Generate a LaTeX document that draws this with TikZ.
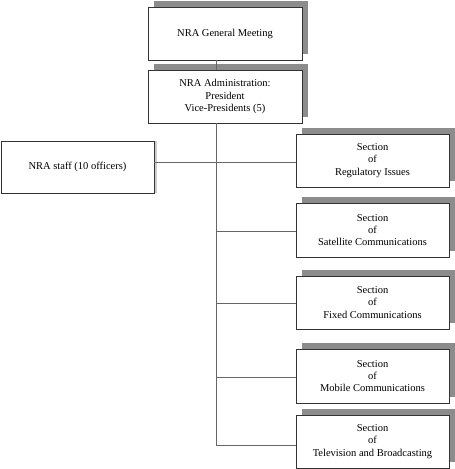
\documentclass[tikz,border=0pt]{standalone}
\usepackage{fontspec}
\setmainfont{Liberation Serif}
\usetikzlibrary{shadows}
\begin{document}
\begin{tikzpicture}[x=1pt,y=-1pt,
    orgbox/.style={draw=black!80,line width=0.8pt,fill=white,align=center,
      inner sep=0pt,minimum width=154pt,minimum height=53pt,
      font=\fontsize{10.5}{12.3}\selectfont,
      copy shadow={shadow xshift=6pt,shadow yshift=6.5pt,fill=black!45,draw=none}},
    staffbox/.style={draw=black!80,line width=0.8pt,fill=white,align=center,
      inner sep=0pt,minimum width=153pt,minimum height=52pt,
      font=\fontsize{10.5}{12.3}\selectfont,
      copy shadow={shadow xshift=3pt,shadow yshift=0pt,fill=black!20,draw=none}},
    link/.style={draw=black!60,line width=0.7pt}]
  \useasboundingbox (0,0) rectangle (455,469);
  \path
    (225,33.5) node[orgbox] (meet){NRA General Meeting}
    (225,96.5) node[orgbox] (admin){NRA Administration:\\President\\Vice-Presidents (5)}
    (77.5,167) node[staffbox] (staff){NRA staff (10 officers)}
    (372.5,160.5) node[orgbox,minimum width=153pt] (s1){Section\\of\\Regulatory Issues}
    (372.5,230) node[orgbox,minimum width=153pt,minimum height=54pt] (s2){Section\\of\\Satellite Communications}
    (372.5,302.5) node[orgbox,minimum width=153pt] (s3){Section\\of\\Fixed Communications}
    (372.5,376) node[orgbox,minimum width=153pt,minimum height=54pt] (s4){Section\\of\\Mobile Communications}
    (372.5,441.5) node[orgbox,minimum width=153pt] (s5){Section\\of\\Television and Broadcasting};
  \coordinate (j1) at (216,162);
  \coordinate (j2) at (216,231);
  \coordinate (j3) at (216,303);
  \coordinate (j4) at (216,377);
  \coordinate (j5) at (216,445);
  \begin{scope}[link]
    \draw (meet.south -| j1) -- (admin.north -| j1);
    \draw (admin.south -| j1) -- (j5);
    \draw (j1 -| staff.east) -- (j1 -| s1.west);
    \draw (j2) -- (j2 -| s2.west);
    \draw (j3) -- (j3 -| s3.west);
    \draw (j4) -- (j4 -| s4.west);
    \draw (j5) -- (j5 -| s5.west);
  \end{scope}
\end{tikzpicture}
\end{document}
